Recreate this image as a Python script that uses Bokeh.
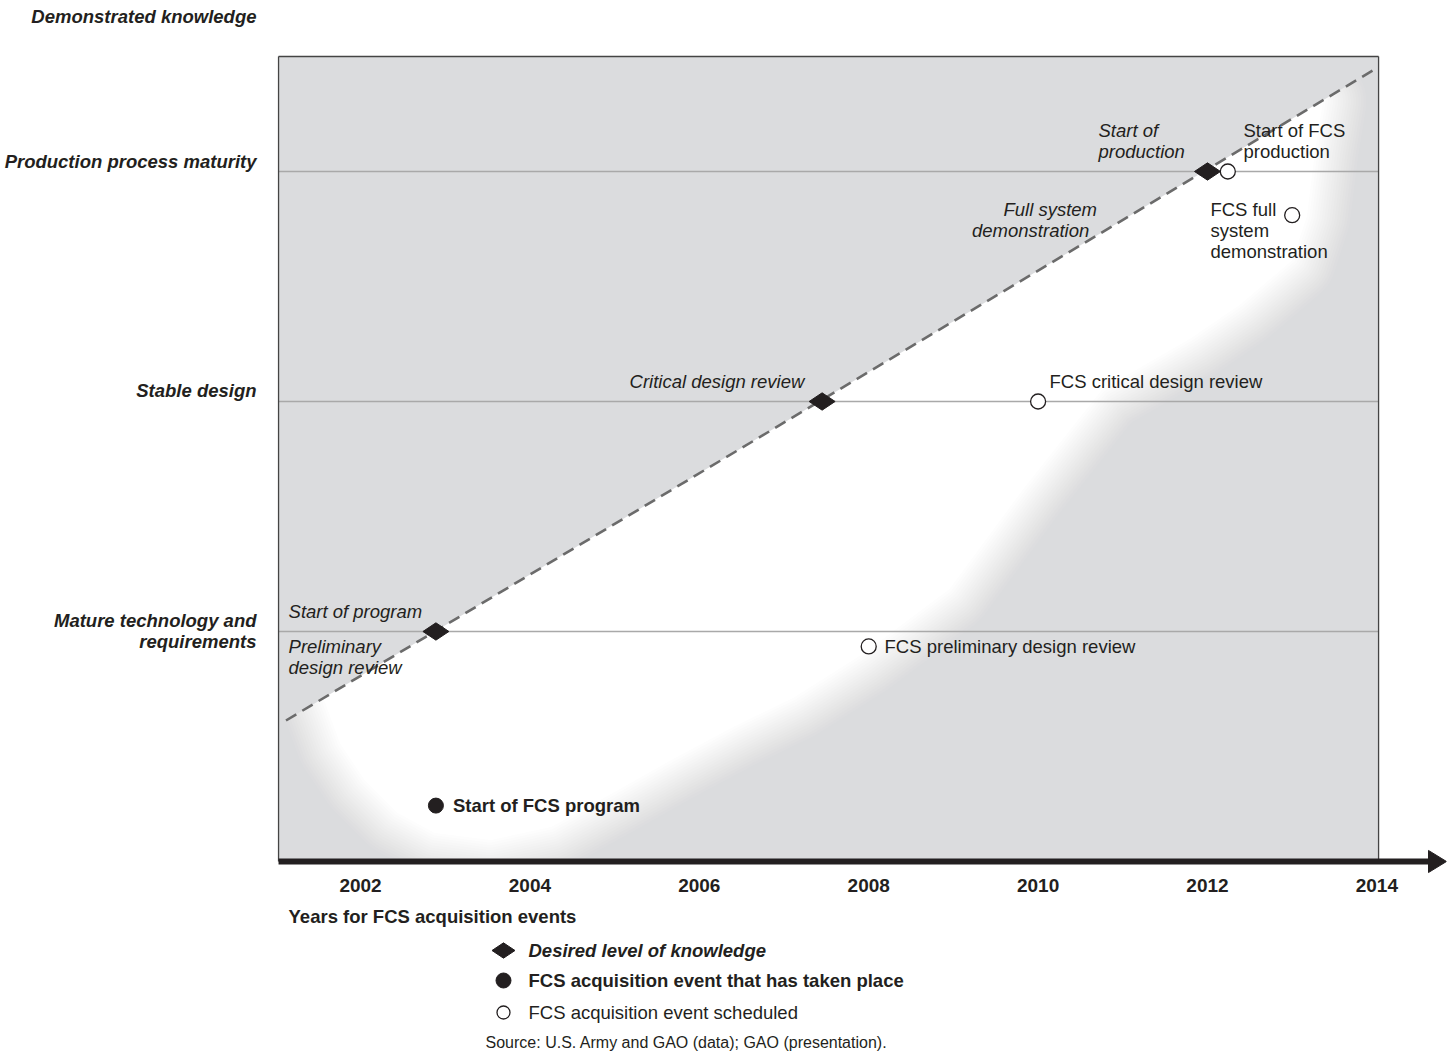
import numpy as np
from bokeh.plotting import figure
from bokeh.layouts import column
from bokeh.models import FixedTicker, Range1d
from bokeh.core.properties import value
from bokeh.embed import file_html
from bokeh.resources import INLINE

FONT = "Liberation Sans"
INK = "#231f20"
GRAY = "#dbdcde"
FS = "18.5px"

# ---------------- data ----------------
levels = [1, 2, 3]
level_labels = ["Mature technology and\nrequirements", "Stable design", "Production process maturity"]
level_label_pos = [1.0, 2.048, 3.043]
y_title = "Demonstrated knowledge"
y_title_pos = 3.674
year_ticks = [2002, 2004, 2006, 2008, 2010, 2012, 2014]

# desired level of knowledge (diamonds on the trend line)
desired_x = [2002.89, 2007.45, 2012.0]
desired_y = [1, 2, 3]

# FCS events that took place
done_x = [2002.89]
done_y = [0.243]
done_labels = ["Start of FCS program"]

# FCS events scheduled
sched_x = [2008.0, 2010.0, 2012.24, 2013.0]
sched_y = [0.935, 2.0, 3.0, 2.81]
sched_labels = ["FCS preliminary design review", "FCS critical design review",
                "Start of FCS\nproduction", "FCS full\nsystem\ndemonstration"]
sched_label_x = [2008.187, 2010.135, 2012.425, 2012.035]
sched_label_y = [0.935, 2.087, 3.133, 2.743]

# labels of the desired-knowledge milestones
desired_labels = ["Start of program", "Preliminary\ndesign review", "Critical design review",
                  "Full system", "demonstration", "Start of\nproduction"]
desired_label_x = [2001.150, 2001.150, 2005.176, 2009.591, 2009.22, 2010.713]
desired_label_y = [1.087, 0.887, 2.087, 2.835, 2.743, 3.133]

# dashed trend line (desired knowledge path)
trend_x = [2001.12, 2013.95]
trend_y = [0.613, 3.439]

# shaded chart box
box_x = [2001.032, 2014.02]
box_y = [0.0, 3.5]

# white glow band under the trend line (outline, right end to left end)
glow_x = [2013.334, 2013.240, 2013.145, 2012.980, 2012.366, 2011.799, 2010.737,
          2009.792, 2008.930, 2007.903, 2007.100, 2006.392, 2005.660, 2004.928,
          2004.243, 2003.535, 2002.885, 2002.449, 2002.071, 2001.787, 2001.587]
glow_y = [3.304, 3.091, 2.809, 2.622, 2.430, 2.287, 2.061,
          1.622, 1.191, 0.909, 0.722, 0.596, 0.452, 0.300,
          0.161, 0.104, 0.135, 0.222, 0.361, 0.517, 0.717]

legend_labels = ["Desired level of knowledge", "FCS acquisition event that has taken place",
                 "FCS acquisition event scheduled"]
legend_styles = ["bold italic", "bold", "normal"]
x_title = "Years for FCS acquisition events"
source_note = "Source: U.S. Army and GAO (data); GAO (presentation)."


def on_trend(x):
    s = (trend_y[1] - trend_y[0]) / (trend_x[1] - trend_x[0])
    return trend_y[0] + (x - trend_x[0]) * s


# ---------------- main figure ----------------
X0, X1 = 2000.937, 2014.822
Y0, Y1 = -0.0609, 3.726
W = 1450
H1 = 903
p = figure(width=W, height=H1, x_range=Range1d(X0, X1), y_range=Range1d(Y0, Y1),
           output_backend="svg", toolbar_location=None,
           min_border_left=270, min_border_right=4, min_border_top=4, min_border_bottom=28)
p.outline_line_color = None
p.grid.visible = False
p.background_fill_color = "white"
p.border_fill_color = "white"

# gray box
p.quad(left=[box_x[0]], right=[box_x[1]], bottom=[box_y[0]], top=[box_y[1]],
       fill_color=GRAY, line_color=None)

# soft white glow: stacked strokes giving a linear fall-off
n, D = 18, 46.0
for k in range(1, n + 1):
    d = D * (n - k + 1) / n
    a = 1.0 / (n - k + 1)
    p.patch(glow_x, glow_y, fill_color=None, line_color="white",
            line_width=2 * d, line_alpha=a, line_join="round")
p.patch(glow_x, glow_y, fill_color="white", line_color=None)

# restore crisp gray above the trend line
p.patch([box_x[0], box_x[1], box_x[1], box_x[0]],
        [box_y[1], box_y[1], on_trend(box_x[1]), on_trend(box_x[0])],
        fill_color=GRAY, line_color=None)

# level lines
p.multi_line([[box_x[0], box_x[1]] for _ in levels], [[l, l] for l in levels],
             line_color="#a9a9a9", line_width=1.5)

# trend line
p.line(trend_x, trend_y, line_color="#6b6b6b", line_width=2.6, line_dash="12 7")

# box border
p.multi_line([[box_x[0], box_x[0]], [box_x[0], box_x[1]], [box_x[1], box_x[1]]],
             [[box_y[0], box_y[1]], [box_y[1], box_y[1]], [box_y[1], box_y[0]]],
             line_color="#444444", line_width=1.3)

# time axis arrow
arrow_base = X1 - 18 / 84.7
p.line([box_x[0], arrow_base], [0, 0], line_color=INK, line_width=6)
p.patch([arrow_base, X1, arrow_base], [0.048, 0, -0.048], fill_color=INK, line_color=INK)

# markers
p.scatter(desired_x, desired_y, marker="diamond", size=26, angle=np.pi / 2,
          fill_color=INK, line_color=INK)
p.scatter(done_x, done_y, marker="circle", size=15, fill_color=INK, line_color=INK)
p.scatter(sched_x, sched_y, marker="circle", size=15, fill_color="white",
          line_color=INK, line_width=1.3)

# texts
p.text(desired_label_x, desired_label_y, text=desired_labels, text_font=value(FONT),
       text_font_style="italic", text_font_size=FS, text_color=INK,
       text_align="left", text_baseline="middle", text_line_height=1.0)
p.text(sched_label_x, sched_label_y, text=sched_labels, text_font=value(FONT),
       text_font_style="normal", text_font_size=FS, text_color=INK,
       text_align="left", text_baseline="middle", text_line_height=1.0)
p.text(done_x, done_y, text=done_labels, x_offset=17, text_font=value(FONT),
       text_font_style="bold", text_font_size=FS, text_color=INK,
       text_align="left", text_baseline="middle")

# axes
p.xaxis.ticker = FixedTicker(ticks=year_ticks)
p.xaxis.axis_line_color = None
p.xaxis.major_tick_line_color = None
p.xaxis.minor_tick_line_color = None
p.xaxis.major_label_standoff = -3
p.xaxis.major_label_text_font = FONT
p.xaxis.major_label_text_font_style = "bold"
p.xaxis.major_label_text_font_size = "19px"
p.xaxis.major_label_text_color = INK

y_ticks = level_label_pos + [y_title_pos]
y_tick_text = level_labels + [y_title]
p.yaxis.ticker = FixedTicker(ticks=y_ticks)
p.yaxis.major_label_overrides = {t: s for t, s in zip(y_ticks, y_tick_text)}
p.yaxis.axis_line_color = None
p.yaxis.major_tick_line_color = None
p.yaxis.minor_tick_line_color = None
p.yaxis.major_label_standoff = 8
p.yaxis.major_label_text_font = FONT
p.yaxis.major_label_text_font_style = "bold italic"
p.yaxis.major_label_text_font_size = FS
p.yaxis.major_label_text_line_height = 1.0
p.yaxis.major_label_text_color = INK

# ---------------- lower panel: axis title, legend, source ----------------
H2 = 1055 - H1 - 1
q = figure(width=W, height=H2, x_range=Range1d(X0, X1), y_range=Range1d(H2, 0),
           x_axis_type=None, y_axis_type=None, output_backend="svg",
           toolbar_location=None, min_border_left=270, min_border_right=4,
           min_border_top=0, min_border_bottom=0)
q.outline_line_color = None
q.grid.visible = False

q.text([2001.150], [13], text=[x_title], text_font=value(FONT), text_font_style="bold",
       text_font_size=FS, text_color=INK, text_baseline="middle")

leg_x, leg_y = 2003.688, [47, 77, 109]
q.scatter([leg_x], [leg_y[0]], marker="diamond", size=23, angle=np.pi / 2,
          fill_color=INK, line_color=INK)
q.scatter([leg_x], [leg_y[1]], marker="circle", size=15, fill_color=INK, line_color=INK)
q.scatter([leg_x], [leg_y[2]], marker="circle", size=13, fill_color="white",
          line_color=INK, line_width=1.3)
q.text([leg_x] * 3, leg_y, text=legend_labels, x_offset=25, text_font=value(FONT),
       text_font_style=legend_styles, text_font_size=FS, text_color=INK,
       text_baseline="middle")

q.text([2003.476], [139], text=[source_note], text_font=value(FONT), text_font_size="16px",
       text_color=INK, text_baseline="middle")

layout = column(p, q)
open("out.html", "w").write(file_html(layout, INLINE))
